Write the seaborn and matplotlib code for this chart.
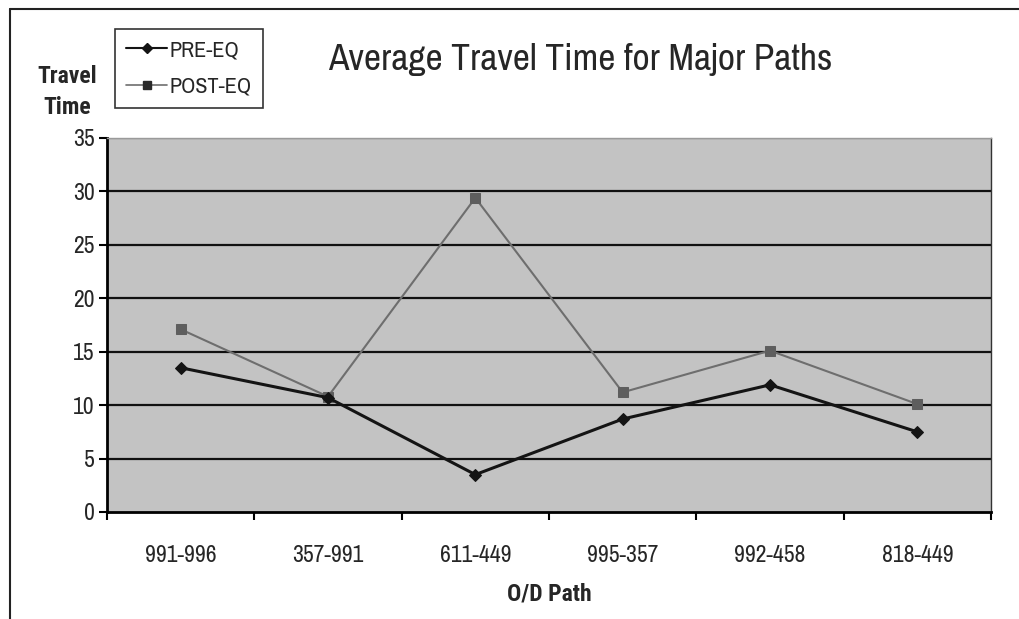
import numpy as np
import pandas as pd
import matplotlib
matplotlib.use("Agg")
import matplotlib.pyplot as plt
import seaborn as sns
from matplotlib.lines import Line2D
from matplotlib import font_manager as fm
import logging
logging.getLogger("matplotlib.font_manager").setLevel(logging.ERROR)

paths = ["991-996", "357-991", "611-449", "995-357", "992-458", "818-449"]
pre_eq = [13.5, 10.7, 3.5, 8.7, 11.9, 7.5]
post_eq = [17.1, 10.8, 29.4, 11.2, 15.1, 10.1]
y_ticks = [0, 5, 10, 15, 20, 25, 30, 35]

sns.set_theme(style="white")
candidates = ["Arial Narrow", "Liberation Sans Narrow", "Archivo Narrow",
              "Roboto Condensed", "PT Sans Narrow", "Pragati Narrow"]
weights = {}
for f in fm.fontManager.ttflist:
    w = f.weight if isinstance(f.weight, int) else (700 if str(f.weight) == "bold" else 400)
    weights.setdefault(f.name, set()).add(w)
narrow = [c for c in candidates if c in weights]
narrow_bold = [c for c in candidates if c in weights and max(weights[c]) >= 600]
FONT = (narrow[:1] if narrow else []) + ["DejaVu Sans"]
BOLD_FONT = (narrow_bold[:1] if narrow_bold else []) + FONT
plt.rcParams["font.family"] = FONT
plt.rcParams["font.stretch"] = "condensed"

df = pd.DataFrame({
    "path": paths * 2,
    "pos": list(range(len(paths))) * 2,
    "time": pre_eq + post_eq,
    "series": ["PRE-EQ"] * len(paths) + ["POST-EQ"] * len(paths),
})

fig = plt.figure(figsize=(10.2, 6.19), dpi=100)
ax = fig.add_axes([107 / 1020, 1 - 512 / 619, (991 - 107) / 1020, (512 - 138) / 619])
ax.set_facecolor("#c3c3c3")

for yv in y_ticks[1:-1]:
    ax.axhline(yv, color="#111111", lw=1.6, zorder=1)
ax.axhline(35, color="#9a9a9a", lw=1.0, zorder=1)

sns.lineplot(data=df[df.series == "POST-EQ"], x="pos", y="time", ax=ax,
             color="#6e6e6e", lw=1.5, marker="s", markersize=7,
             markerfacecolor="#5e5e5e", markeredgecolor="#5e5e5e", zorder=3,
             label="POST-EQ", legend=False)
sns.lineplot(data=df[df.series == "PRE-EQ"], x="pos", y="time", ax=ax,
             color="#141414", lw=2.2, marker="D", markersize=6,
             markerfacecolor="#141414", markeredgecolor="#141414", zorder=4,
             label="PRE-EQ", legend=False)

ax.set_xlim(-0.5, len(paths) - 0.5)
ax.set_ylim(0, 35)
ax.set_yticks(y_ticks)
ax.set_yticklabels([str(v) for v in y_ticks], fontsize=17)
ax.set_xticks(range(len(paths)))
ax.set_xticklabels(paths, fontsize=17)
ax.set_xticks(np.arange(-0.5, len(paths)), minor=True)
ax.tick_params(axis="x", which="major", length=0, pad=24)
ax.tick_params(axis="x", which="minor", length=6, width=1.5, color="black", direction="out", bottom=True)
ax.tick_params(axis="y", which="major", length=6, width=1.5, color="black", direction="out", left=True, pad=3)
ax.set_xlabel("")
ax.set_ylabel("")

for side in ["left", "bottom"]:
    ax.spines[side].set_color("black")
    ax.spines[side].set_linewidth(2.0)
ax.spines["right"].set_color("#333333")
ax.spines["right"].set_linewidth(1.0)
ax.spines["top"].set_color("#9a9a9a")
ax.spines["top"].set_linewidth(1.0)

fig.text(580 / 1020, 1 - 59 / 619, "Average Travel Time for Major Paths",
         ha="center", va="center", fontsize=27)
fig.text(67 / 1020, 1 - 92 / 619, "Travel\nTime", ha="center", va="center",
         fontsize=17, fontweight="bold", linespacing=1.45, family=BOLD_FONT)
fig.text(549 / 1020, 1 - 594 / 619, "O/D Path", ha="center", va="center",
         fontsize=17, fontweight="bold", family=BOLD_FONT)

handles = [
    Line2D([], [], color="#141414", lw=1.5, marker="D", markersize=5,
           markerfacecolor="#141414", markeredgecolor="#141414"),
    Line2D([], [], color="#6e6e6e", lw=1.2, marker="s", markersize=6,
           markerfacecolor="#2a2a2a", markeredgecolor="#2a2a2a"),
]
leg = fig.legend(handles, ["PRE-EQ", "POST-EQ"], loc="upper left",
                 bbox_to_anchor=(115 / 1020, 1 - 29 / 619), fontsize=16,
                 frameon=True, fancybox=False, handlelength=1.85,
                 handletextpad=0.1, borderpad=0.5, labelspacing=0.75,
                 borderaxespad=0)
leg.get_frame().set_edgecolor("black")
leg.get_frame().set_linewidth(1.2)

fig.add_artist(Line2D([10 / 1020, 10 / 1020], [0, 1 - 9 / 619], transform=fig.transFigure,
                      color="#222222", lw=1.5))
fig.add_artist(Line2D([10 / 1020, 1], [1 - 9 / 619, 1 - 9 / 619], transform=fig.transFigure,
                      color="#222222", lw=1.5))

fig.savefig("out.png", dpi=100)
